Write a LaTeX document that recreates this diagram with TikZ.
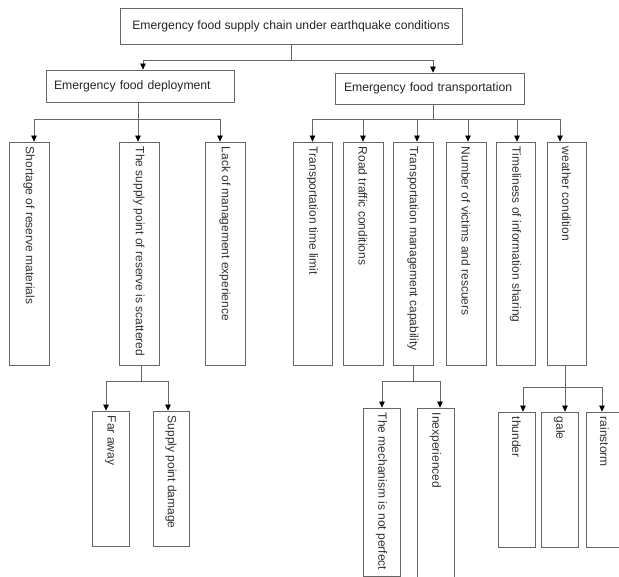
\documentclass[tikz,border=0pt]{standalone}
\usepackage{fontspec}
\setmainfont{Liberation Sans}
\usetikzlibrary{arrows.meta}
\begin{document}
\begin{tikzpicture}[x=1pt,y=-1pt,
  box/.style={draw=black!60,line width=0.8pt,fill=white,inner sep=0pt},
  hbox/.style={box,text=black!85,font=\fontsize{12.2}{14}\selectfont},
  vtext/.style={rotate=-90,anchor=west,inner sep=0pt,text=black!80,font=\fontsize{12}{14}\selectfont},
  link/.style={draw=black!60,line width=0.8pt},
  arr/.style={link,-{Triangle[width=5.5pt,length=6pt,color=black]}}]
\useasboundingbox (0,0) rectangle (619,577);
% header boxes
\node[hbox,minimum width=342pt,minimum height=36pt] (top) at (291,26) {Emergency food supply chain under earthquake conditions};
\node[hbox,minimum width=188pt,minimum height=32pt,text width=172pt,align=left] (dep) at (140,86) {Emergency food deployment};
\node[hbox,minimum width=189pt,minimum height=31pt,text width=171pt,align=left] (trans) at (429.5,88.5) {Emergency food transportation};
% first level
\node[box,minimum width=40pt,minimum height=223pt] (b1) at (29,253.5) {};
\node[box,minimum width=40pt,minimum height=223pt] (b2) at (139,253.5) {};
\node[box,minimum width=40pt,minimum height=223pt] (b3) at (225,253.5) {};
\node[box,minimum width=39pt,minimum height=223pt] (ta) at (312.5,253.5) {};
\node[box,minimum width=40pt,minimum height=223pt] (tb) at (363,253.5) {};
\node[box,minimum width=40pt,minimum height=223pt] (tc) at (413,253.5) {};
\node[box,minimum width=40pt,minimum height=223pt] (td) at (466,253.5) {};
\node[box,minimum width=39pt,minimum height=223pt] (te) at (515.5,253.5) {};
\node[box,minimum width=39pt,minimum height=223pt] (tf) at (566.5,253.5) {};
% second level
\node[box,minimum width=37pt,minimum height=135pt] (far) at (110.5,478.5) {};
\node[box,minimum width=36pt,minimum height=135pt] (dmg) at (171,478.5) {};
\node[box,minimum width=37pt,minimum height=168pt] (mech) at (381.5,492) {};
\node[box,minimum width=37pt,minimum height=174pt] (inexp) at (435.5,495) {};
\node[box,minimum width=37pt,minimum height=135pt] (thun) at (516.5,479.5) {};
\node[box,minimum width=37pt,minimum height=135pt] (gale) at (559.5,479.5) {};
\node[box,minimum width=37pt,minimum height=135pt] (rain) at (604.5,479.5) {};
% vertical texts
\node[vtext] (l1) at ([yshift=-5pt]b1.north) {Shortage of reserve materials};
\node[vtext] (l2) at ([yshift=-5pt]b2.north) {The supply point of reserve is scattered};
\node[vtext] (l3) at ([yshift=-5pt]b3.north) {Lack of management experience};
\node[vtext] (la) at ([yshift=-5pt]ta.north) {Transportation time limit};
\node[vtext] (lb) at ([yshift=-5pt]tb.north) {Road traffic conditions};
\node[vtext] (lc) at ([yshift=-5pt]tc.north) {Transportation management capability};
\node[vtext] (ld) at ([yshift=-5pt]td.north) {Number of victims and rescuers};
\node[vtext] (le) at ([yshift=-5pt]te.north) {Timeliness of information sharing};
\node[vtext] (lf) at ([yshift=-5pt]tf.north) {weather condition};
\node[vtext] (lfar) at ([yshift=-5pt]far.north) {Far away};
\node[vtext] (ldmg) at ([yshift=-5pt]dmg.north) {Supply point damage};
\node[vtext] (lmech) at ([yshift=-5pt]mech.north) {The mechanism is not perfect};
\node[vtext] (linexp) at ([yshift=-5pt]inexp.north) {Inexperienced};
\node[vtext] (lthun) at ([yshift=-5pt]thun.north) {thunder};
\node[vtext] (lgale) at ([yshift=-5pt]gale.north) {gale};
\node[vtext] (lrain) at ([yshift=-5pt]rain.north) {rainstorm};
% connectors
\draw[link] (top.south) -- ++(0,16) coordinate (j0);
\draw[arr] (j0) -| ([xshift=3pt]dep.north);
\draw[arr] (j0) -| ([xshift=3.5pt]trans.north);
\draw[link] ([xshift=-2pt]dep.south) -- ++(0,17) coordinate (j1);
\draw[arr] (j1) -| ([xshift=5pt]b1.north);
\draw[arr] (j1) -| ([xshift=-1pt]b2.north);
\draw[arr] (j1) -| ([xshift=-5pt]b3.north);
\draw[link] ([xshift=3.5pt]trans.south) -- ++(0,15) coordinate (j2);
\draw[arr] (j2) -| (ta.north);
\draw[arr] (j2) -| (tb.north);
\draw[arr] (j2) -| ([xshift=4pt]tc.north);
\draw[arr] (j2) -| ([xshift=2pt]td.north);
\draw[arr] (j2) -| ([xshift=1.5pt]te.north);
\draw[arr] (j2) -| ([xshift=-6.5pt]tf.north);
\draw[link] ([xshift=2pt]b2.south) -- ++(0,16) coordinate (j3);
\draw[arr] (j3) -| ([xshift=-4.5pt]far.north);
\draw[arr] (j3) -| ([xshift=-3pt]dmg.north);
\draw[link] (tc.south) -- ++(0,16) coordinate (j4);
\draw[arr] (j4) -| ([xshift=0.5pt]mech.north);
\draw[arr] (j4) -| ([xshift=4.5pt]inexp.north);
\draw[link] ([xshift=-1.5pt]tf.south) -- ++(0,22) coordinate (j5);
\draw[arr] (j5) -| ([xshift=6.5pt]thun.north);
\draw[arr] (j5) -| ([xshift=5.5pt]gale.north);
\draw[arr] (j5) -| ([xshift=-2.5pt]rain.north);
\end{tikzpicture}
\end{document}
